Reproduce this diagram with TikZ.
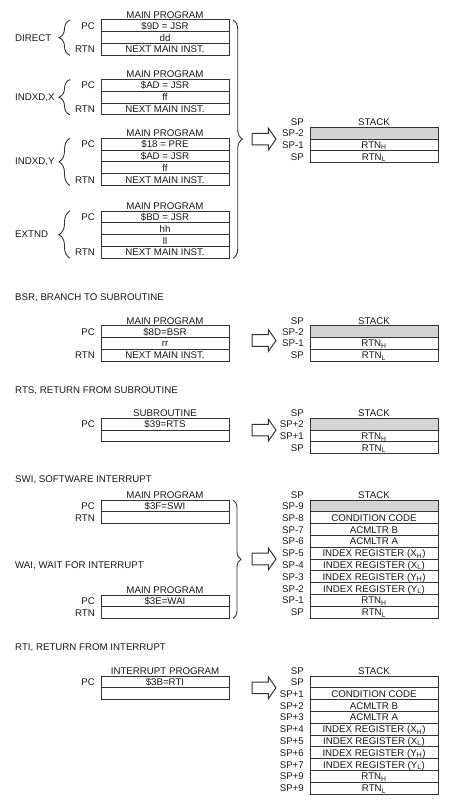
\documentclass[tikz,border=0pt]{standalone}
\usepackage{fontspec}
\setmainfont{Liberation Sans}
\usetikzlibrary{positioning, shapes.arrows, decorations.pathreplacing}

\begin{document}
\begin{tikzpicture}[
        x=1pt, y=-1pt,
        every node/.style={font=\fontsize{9.7}{11}\selectfont, text=black!90},
        cell/.style={
            rectangle, draw=black!80, line width=1pt, fill=white,
            minimum width=128pt, minimum height=11.8pt, inner sep=0pt, outer sep=0pt,
            text height=7pt, text depth=0pt, anchor=north west
        },
        blank/.style={cell, fill=black!17},
        lbl/.style={inner sep=0pt, text height=7pt, text depth=0pt},
        title/.style={inner sep=1pt, text height=7pt, text depth=0pt},
        head/.style={inner sep=0pt, anchor=west, text height=7pt, text depth=0pt},
        curly/.style={decorate, decoration={brace, amplitude=#1}, line width=0.9pt, draw=black!80},
        bigarrow/.style={
            single arrow, draw=black!80, line width=1pt, inner xsep=0pt, inner ysep=5.3pt,
            outer sep=0pt, minimum height=24pt, single arrow head extend=5.2pt,
            single arrow tip angle=110, anchor=tip
        },
        label distance=6pt
    ]
        \useasboundingbox (0,0) rectangle (455,805);

        % JSR, direct
        \node (dir1) [cell, label={[lbl]left:PC}] at (101,20) {\$9D = JSR};
        \node (dir2) [cell, below=0pt of dir1] {dd};
        \node (dir3) [cell, below=0pt of dir2, label={[lbl]left:RTN}] {NEXT MAIN INST.};
        \node (dirT) [title, above=0.5pt of dir1] {MAIN PROGRAM};
        \node (dirM) [head] at (15,38) {DIRECT};
        \draw [curly=11pt] ([xshift=-31pt]dir3.south west) -- ([xshift=-31pt]dir1.north west);

        % JSR, indexed X
        \node (ix1) [cell, label={[lbl]left:PC}] at (101,79.5) {\$AD = JSR};
        \node (ix2) [cell, below=0pt of ix1] {ff};
        \node (ix3) [cell, below=0pt of ix2, label={[lbl]left:RTN}] {NEXT MAIN INST.};
        \node (ixT) [title, above=0.5pt of ix1] {MAIN PROGRAM};
        \node (ixM) [head] at (15,97) {INDXD,X};
        \draw [curly=11pt] ([xshift=-31pt]ix3.south west) -- ([xshift=-31pt]ix1.north west);

        % JSR, indexed Y
        \node (iy1) [cell, label={[lbl]left:PC}] at (101,138.3) {\$18 = PRE};
        \node (iy2) [cell, below=0pt of iy1] {\$AD = JSR};
        \node (iy3) [cell, below=0pt of iy2] {ff};
        \node (iy4) [cell, below=0pt of iy3, label={[lbl]left:RTN}] {NEXT MAIN INST.};
        \node (iyT) [title, above=0.5pt of iy1] {MAIN PROGRAM};
        \node (iyM) [head] at (15,161) {INDXD,Y};
        \draw [curly=11pt] ([xshift=-31pt]iy4.south west) -- ([xshift=-31pt]iy1.north west);

        % JSR, extended
        \node (ex1) [cell, label={[lbl]left:PC}] at (101,211) {\$BD = JSR};
        \node (ex2) [cell, below=0pt of ex1] {hh};
        \node (ex3) [cell, below=0pt of ex2] {ll};
        \node (ex4) [cell, below=0pt of ex3, label={[lbl]left:RTN}] {NEXT MAIN INST.};
        \node (exT) [title, above=0.5pt of ex1] {MAIN PROGRAM};
        \node (exM) [head] at (15,234) {EXTND};
        \draw [curly=11pt] ([xshift=-31pt]ex4.south west) -- ([xshift=-31pt]ex1.north west);

        \draw [curly=9.5pt] ([xshift=4pt]dir1.north east) -- ([xshift=4pt]ex4.south east);

        % JSR stack
        \node (js1) [blank, label={[lbl]left:SP-2}] at (310,127.3) {};
        \node (js2) [cell, below=0pt of js1, label={[lbl]left:SP-1}] {RTN\textsubscript{H}};
        \node (js3) [cell, below=0pt of js2, label={[lbl]left:SP}] {RTN\textsubscript{L}};
        \node (jsT) [title, above=0.5pt of js1] {STACK};
        \node (jsP) [lbl, anchor=east, xshift=-6pt] at (js1.west |- jsT) {SP};
        \node (jsA) [bigarrow] at ([xshift=-34pt]js1.south west) {};

        % BSR
        \node (bsrH) [head] at (15,297) {BSR, BRANCH TO SUBROUTINE};
        \node (bsr1) [cell, label={[lbl]left:PC}] at (101,325.7) {\$8D=BSR};
        \node (bsr2) [cell, below=0pt of bsr1] {rr};
        \node (bsr3) [cell, below=0pt of bsr2, label={[lbl]left:RTN}] {NEXT MAIN INST.};
        \node (bsrT) [title, above=0.5pt of bsr1] {MAIN PROGRAM};

        \node (bs1) [blank, label={[lbl]left:SP-2}] at (310,325.7) {};
        \node (bs2) [cell, below=0pt of bs1, label={[lbl]left:SP-1}] {RTN\textsubscript{H}};
        \node (bs3) [cell, below=0pt of bs2, label={[lbl]left:SP}] {RTN\textsubscript{L}};
        \node (bsT) [title, above=0.5pt of bs1] {STACK};
        \node (bsP) [lbl, anchor=east, xshift=-6pt] at (bs1.west |- bsT) {SP};
        \node (bsA) [bigarrow, yshift=-3pt] at ([xshift=-34pt]bs1.south west) {};

        % RTS
        \node (rtsH) [head] at (15,390) {RTS, RETURN FROM SUBROUTINE};
        \node (rts1) [cell, label={[lbl]left:PC}] at (101,418.3) {\$39=RTS};
        \node (rts2) [cell, below=0pt of rts1] {};
        \node (rtsT) [title, above=0.5pt of rts1] {SUBROUTINE};

        \node (rs1) [blank, label={[lbl]left:SP+2}] at (310,418.3) {};
        \node (rs2) [cell, below=0pt of rs1, label={[lbl]left:SP+1}] {RTN\textsubscript{H}};
        \node (rs3) [cell, below=0pt of rs2, label={[lbl]left:SP}] {RTN\textsubscript{L}};
        \node (rsT) [title, above=0.5pt of rs1] {STACK};
        \node (rsP) [lbl, anchor=east, xshift=-6pt] at (rs1.west |- rsT) {SP};
        \node (rsA) [bigarrow] at ([xshift=-34pt]rs1.south west) {};

        % SWI and WAI
        \node (swiH) [head] at (15,479) {SWI, SOFTWARE INTERRUPT};
        \node (swi1) [cell, label={[lbl]left:PC}] at (101,500) {\$3F=SWI};
        \node (swi2) [cell, below=0pt of swi1, label={[lbl]left:RTN}] {};
        \node (swiT) [title, above=0.5pt of swi1] {MAIN PROGRAM};

        \node (waiH) [head] at (15,565) {WAI, WAIT FOR INTERRUPT};
        \node (wai1) [cell, label={[lbl]left:PC}] at (101,595) {\$3E=WAI};
        \node (wai2) [cell, below=0pt of wai1, label={[lbl]left:RTN}] {};
        \node (waiT) [title, above=0.5pt of wai1] {MAIN PROGRAM};
        \draw [curly=8pt] ([xshift=4pt]swi1.north east) -- ([xshift=4pt]wai2.south east);

        \node (ws1) [blank, label={[lbl]left:SP-9}] at (310,500) {};
        \node (ws2) [cell, below=0pt of ws1, label={[lbl]left:SP-8}] {CONDITION CODE};
        \node (ws3) [cell, below=0pt of ws2, label={[lbl]left:SP-7}] {ACMLTR B};
        \node (ws4) [cell, below=0pt of ws3, label={[lbl]left:SP-6}] {ACMLTR A};
        \node (ws5) [cell, below=0pt of ws4, label={[lbl]left:SP-5}] {INDEX REGISTER (X\textsubscript{H})};
        \node (ws6) [cell, below=0pt of ws5, label={[lbl]left:SP-4}] {INDEX REGISTER (X\textsubscript{L})};
        \node (ws7) [cell, below=0pt of ws6, label={[lbl]left:SP-3}] {INDEX REGISTER (Y\textsubscript{H})};
        \node (ws8) [cell, below=0pt of ws7, label={[lbl]left:SP-2}] {INDEX REGISTER (Y\textsubscript{L})};
        \node (ws9) [cell, below=0pt of ws8, label={[lbl]left:SP-1}] {RTN\textsubscript{H}};
        \node (ws10) [cell, below=0pt of ws9, label={[lbl]left:SP}] {RTN\textsubscript{L}};
        \node (wsT) [title, above=0.5pt of ws1] {STACK};
        \node (wsP) [lbl, anchor=east, xshift=-6pt] at (ws1.west |- wsT) {SP};
        \node (wsA) [bigarrow] at ([xshift=-34pt]ws5.south west) {};

        % RTI
        \node (rtiH) [head] at (15,646.7) {RTI, RETURN FROM INTERRUPT};
        \node (rti1) [cell, label={[lbl]left:PC}] at (101,676) {\$3B=RTI};
        \node (rti2) [cell, below=0pt of rti1] {};
        \node (rtiT) [title, above=0.5pt of rti1] {INTERRUPT PROGRAM};

        \node (is1) [cell, label={[lbl]left:SP}] at (310,676) {};
        \node (is2) [cell, below=0pt of is1, label={[lbl]left:SP+1}] {CONDITION CODE};
        \node (is3) [cell, below=0pt of is2, label={[lbl]left:SP+2}] {ACMLTR B};
        \node (is4) [cell, below=0pt of is3, label={[lbl]left:SP+3}] {ACMLTR A};
        \node (is5) [cell, below=0pt of is4, label={[lbl]left:SP+4}] {INDEX REGISTER (X\textsubscript{H})};
        \node (is6) [cell, below=0pt of is5, label={[lbl]left:SP+5}] {INDEX REGISTER (X\textsubscript{L})};
        \node (is7) [cell, below=0pt of is6, label={[lbl]left:SP+6}] {INDEX REGISTER (Y\textsubscript{H})};
        \node (is8) [cell, below=0pt of is7, label={[lbl]left:SP+7}] {INDEX REGISTER (Y\textsubscript{L})};
        \node (is9) [cell, below=0pt of is8, label={[lbl]left:SP+9}] {RTN\textsubscript{H}};
        \node (is10) [cell, below=0pt of is9, label={[lbl]left:SP+9}] {RTN\textsubscript{L}};
        \node (isT) [title, above=0.5pt of is1] {STACK};
        \node (isP) [lbl, anchor=east, xshift=-6pt] at (is1.west |- isT) {SP};
        \node (isA) [bigarrow] at ([xshift=-34pt]is1.south west) {};
    \end{tikzpicture}
\end{document}
